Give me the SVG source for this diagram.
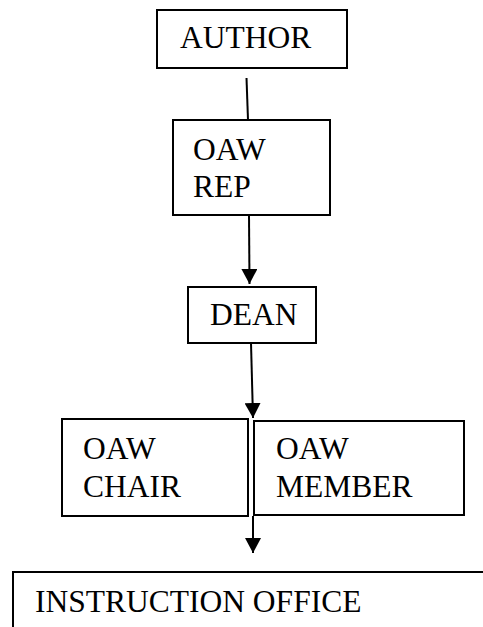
<svg xmlns="http://www.w3.org/2000/svg" width="483" height="627" viewBox="0 0 483 627">
<style>
.box{fill:#fff;stroke:#000;stroke-width:2}
.t{font-family:'Liberation Serif','Times New Roman',serif;font-size:31.5px;fill:#000}
.c{stroke:#000;stroke-width:2;fill:none}
</style>
<defs>
<marker id="ah" markerWidth="16" markerHeight="16" viewBox="0 0 16 16" refX="15" refY="8" orient="auto" markerUnits="userSpaceOnUse">
<path d="M0,0 L15,8 L0,16 Z" fill="#000"/>
</marker>
</defs>
<rect width="483" height="627" fill="#fff"/>
<g id="author"><rect class="box" x="157" y="10" width="190" height="58"/><text class="t" x="180" y="48">AUTHOR</text></g>
<g id="oaw-rep"><rect class="box" x="173" y="120" width="157" height="95"/><text class="t" x="193" y="160">OAW</text><text class="t" x="193" y="197">REP</text></g>
<g id="dean"><rect class="box" x="188" y="287" width="128" height="56"/><text class="t" x="210" y="325">DEAN</text></g>
<g id="oaw-chair"><rect class="box" x="62" y="419" width="186" height="97"/><text class="t" x="83" y="459">OAW</text><text class="t" x="83" y="497">CHAIR</text></g>
<g id="oaw-member"><rect class="box" x="254" y="421" width="210" height="94"/><text class="t" x="276" y="459">OAW</text><text class="t" x="276" y="497">MEMBER</text></g>
<g id="instruction-office"><rect class="box" x="13" y="572" width="480" height="70"/><text class="t" x="35" y="612">INSTRUCTION OFFICE</text></g>
<g id="connectors">
<line class="c" x1="246.5" y1="78" x2="248" y2="120"/>
<line class="c" x1="249" y1="215" x2="249.5" y2="284" marker-end="url(#ah)"/>
<line class="c" x1="251" y1="343" x2="253" y2="418" marker-end="url(#ah)"/>
<line class="c" x1="253" y1="516" x2="253" y2="553" marker-end="url(#ah)"/>
</g>
</svg>
